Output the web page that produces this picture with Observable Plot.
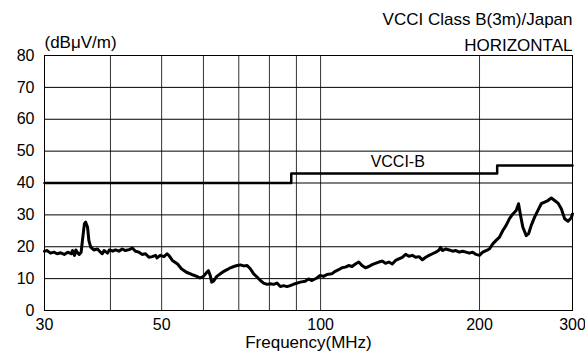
<!DOCTYPE html>
<html><head><meta charset="utf-8">
<script src="https://cdn.jsdelivr.net/npm/d3@7"></script>
<script src="https://cdn.jsdelivr.net/npm/@observablehq/plot@0.6"></script>
<style>body{margin:0;background:#fff}</style>
</head><body><div id="chart"></div>
<script>
const freqMHz = [30, 30.35, 30.8, 31.25, 31.7, 32.2, 32.7, 33.2, 33.7, 33.9, 34.2, 34.4, 34.7, 34.9, 35.2, 35.4, 35.7, 35.9, 36.2, 36.4,
  36.7, 37.2, 37.8, 38.3, 38.6, 38.9, 39.5, 39.8, 40.4, 40.9, 41.5, 42.1, 42.7, 43.4, 44.0, 44.6, 45.3, 45.9, 46.6, 47.3,
  48.0, 48.7, 49.0, 49.7, 50.5, 51.2, 51.6, 52.4, 53.6, 54.5, 55.7, 57.0, 58.3, 59.1, 60.0, 60.9, 61.3, 61.8, 62.2, 62.7,
  63.6, 64.6, 65.6, 66.5, 67.5, 68.5, 69.5, 70.5, 71.5, 72.6, 73.6, 74.7, 75.8, 76.9, 78.0, 79.2, 80.3, 81.5, 82.7, 83.9,
  85.1, 86.4,
  87.6, 89.5, 91.5, 93.5, 94.9, 96.3, 98.4, 99.8, 101.3, 102.8, 105.0, 106.6, 108.2, 109.8, 111.4, 113.0, 114.7, 116.4, 118.1, 119.8,
  121.6, 123.4, 125.2, 127.0, 128.9, 130.8, 132.7, 134.7, 136.7, 138.7, 140.7, 142.8, 144.9, 147.0, 149.2, 151.4, 153.6, 155.9, 158.2, 160.5,
  162.9, 165.3, 167.7, 168.7, 170.1, 172.7, 175.2, 177.8, 180.4, 183.1, 185.8, 188.5, 191.3, 194.1, 197.0, 199.9, 202.8, 205.8, 208.8, 211.9,
  215.0, 218.2, 221.4, 224.6, 227.9, 231.3, 234.7, 237.1, 239.2, 241.6, 245.2, 247.7, 250.6, 254.3, 258.0, 261.8, 265.7, 269.5, 273.5, 277.5,
  281.6, 285.7, 289.9, 294.2, 298.5, 300];
const levelDb = [18.6, 18.8, 18.0, 18.3, 17.8, 18.1, 17.6, 18.3, 17.8, 18.8, 17.3, 19.0, 18.0, 17.6, 18.3, 22.0, 27.2, 27.7, 26.1, 22.0,
  19.9, 19.0, 19.3, 18.3, 17.8, 18.8, 18.0, 19.0, 18.6, 19.0, 18.6, 19.3, 18.8, 19.1, 19.6, 18.6, 18.3, 17.6, 17.8, 16.7,
  16.9, 17.3, 16.5, 17.3, 16.9, 17.8, 17.3, 15.7, 14.6, 13.1, 12.0, 11.3, 10.7, 10.2, 10.7, 12.0, 12.5, 11.0, 8.9, 9.2,
  10.7, 11.5, 12.3, 12.8, 13.4, 13.8, 14.1, 14.3, 14.0, 14.1, 13.1, 11.5, 10.5, 9.4, 8.6, 8.2, 8.4, 8.2, 8.6, 7.5,
  7.8, 7.5,
  7.8, 8.4, 8.9, 9.2, 9.9, 9.4, 10.2, 11.0, 10.7, 11.3, 11.5, 12.3, 12.8, 13.4, 13.6, 14.1, 13.8, 14.6, 15.2, 14.1,
  13.4, 13.8, 14.4, 14.8, 15.2, 15.5, 14.8, 15.2, 14.6, 15.7, 16.2, 16.7, 17.6, 17.0, 17.3, 16.7, 16.9, 15.9, 16.7, 17.3,
  17.8, 18.3, 19.0, 19.8, 18.8, 19.3, 19.0, 18.6, 18.8, 18.3, 18.6, 18.3, 18.0, 18.3, 17.6, 17.3, 18.3, 18.8, 19.3, 20.9,
  22.0, 23.0, 25.1, 26.7, 28.8, 30.3, 31.4, 33.5, 29.8, 26.1, 23.5, 24.1, 26.7, 29.3, 31.4, 33.5, 34.0, 34.5, 35.3, 34.5,
  33.7, 31.9, 28.8, 28.0, 29.1, 30.3];
const limitFreqMHz = [30, 88, 216, 300];
const limitDb = [40, 43, 45.5, 45.5];
const xTicks = [30, 50, 70, 100, 200, 300];
const xGrid = [40, 50, 60, 70, 80, 90, 100, 200];
const yTicks = [0, 10, 20, 30, 40, 50, 60, 70, 80];
const titleText = "VCCI Class B(3m)/Japan";
const polarization = "HORIZONTAL";
const unitLabel = "(dBμV/m)";
const xLabel = "Frequency(MHz)";
const limitLabel = "VCCI-B";

const trace = freqMHz.map((f, i) => ({f, v: levelDb[i]}));
const limit = limitFreqMHz.map((f, i) => ({f, v: limitDb[i]}));

const chart = Plot.plot({
  width: 585, height: 356,
  marginLeft: 44, marginRight: 13, marginTop: 55, marginBottom: 46,
  style: {fontFamily: "'Liberation Sans', Arial, sans-serif", fontSize: "16px", color: "#000", background: "#fff"},
  x: {type: "log", domain: [30, 300]},
  y: {domain: [0, 80]},
  marks: [
    Plot.ruleX(xGrid, {stroke: "#333", strokeWidth: 1}),
    Plot.ruleY(yTicks.slice(1, -1), {stroke: "#000", strokeWidth: 1}),
    Plot.frame({stroke: "#000", strokeWidth: 1}),
    Plot.axisX(xTicks, {tickSize: 0, tickPadding: 8, tickFormat: d => String(d), label: null, fontSize: 16}),
    Plot.axisY(yTicks, {tickSize: 0, tickPadding: 10, label: null, fontSize: 16}),
    Plot.line(limit, {x: "f", y: "v", curve: "step-after", stroke: "#000", strokeWidth: 2.5}),
    Plot.line(trace, {x: "f", y: "v", stroke: "#000", strokeWidth: 3, strokeLinejoin: "round"}),
    Plot.text([limitLabel], {x: () => 140, y: () => 46.5, text: d => d, fontSize: 16}),
    Plot.text([titleText], {frameAnchor: "top-right", lineAnchor: "middle", dy: -36, text: d => d, textAnchor: "end", fontSize: 17}),
    Plot.text([polarization], {frameAnchor: "top-right", lineAnchor: "middle", dy: -10, text: d => d, textAnchor: "end", fontSize: 17}),
    Plot.text([unitLabel], {frameAnchor: "top-left", lineAnchor: "middle", dy: -13, text: d => d, textAnchor: "start", fontSize: 17}),
    Plot.text([xLabel], {frameAnchor: "bottom", lineAnchor: "middle", dy: 32, text: d => d, fontSize: 17})
  ]
});
document.getElementById("chart").appendChild(chart);
</script>
</body></html>
